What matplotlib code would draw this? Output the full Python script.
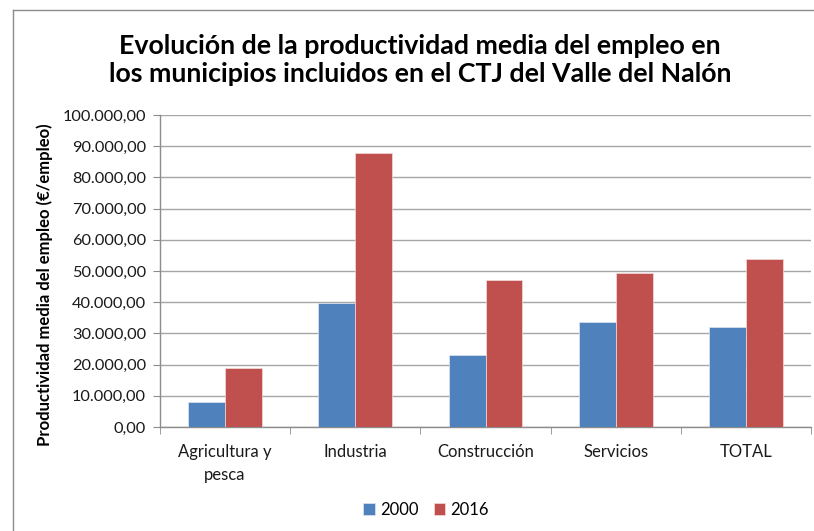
import matplotlib
matplotlib.use("Agg")
import matplotlib.pyplot as plt
import numpy as np
from matplotlib.lines import Line2D
from matplotlib.ticker import FuncFormatter

categories = ["Agricultura y\npesca", "Industria", "Construcción", "Servicios", "TOTAL"]
series_names = ["2000", "2016"]
values_2000 = [7900, 39900, 23000, 33700, 32100]
values_2016 = [18800, 87700, 47000, 49400, 53700]
yticks = [0, 10000, 20000, 30000, 40000, 50000, 60000, 70000, 80000, 90000, 100000]

title = "Evolución de la productividad media del empleo en\nlos municipios incluidos en el CTJ del Valle del Nalón"
ylabel = "Productividad media del empleo (€/empleo)"

plt.rcParams['font.family'] = ['Lato', 'DejaVu Sans']

fig = plt.figure(figsize=(8.14, 5.31), dpi=100)
W, H = 814, 531
ax = fig.add_axes([160 / W, 1 - 427 / H, (811 - 160) / W, (427 - 115) / H])
ax.patch.set_edgecolor("none")
ax.patch.set_linewidth(0)

# outer chart frame (left and top edges visible)
fx, fy = 13.5 / W, 1 - 9.5 / H
fig.lines.append(Line2D([fx, fx], [0, fy], transform=fig.transFigure, color="#8c8c8c", linewidth=1.0))
fig.lines.append(Line2D([fx, 1.0], [fy, fy], transform=fig.transFigure, color="#8c8c8c", linewidth=1.0))

x = np.arange(len(categories))
bw = 0.283
blue = "#4F81BD"
red = "#C0504D"
ax.bar(x - bw / 2, values_2000, bw, color=blue, edgecolor="#dfe6f0", linewidth=0.5, label=series_names[0], zorder=3)
ax.bar(x + bw / 2, values_2016, bw, color=red, edgecolor="#f2dcdb", linewidth=0.5, label=series_names[1], zorder=3)

ax.set_xlim(-0.5, len(categories) - 0.5)
ax.set_ylim(0, 100000)
ax.set_yticks(yticks)

def fmt(v, pos):
    s = f"{v:,.2f}"
    return s.replace(",", "X").replace(".", ",").replace("X", ".")
ax.yaxis.set_major_formatter(FuncFormatter(fmt))

ax.grid(axis="y", which="major", color="#a6a6a6", linewidth=1.0, zorder=0)
ax.grid(axis="x", visible=False)
ax.spines["top"].set_visible(False)
ax.spines["right"].set_visible(False)
for s in ["left", "bottom"]:
    ax.spines[s].set_color("#8c8c8c")
    ax.spines[s].set_linewidth(1.0)

ax.set_xticks(x)
ax.set_xticklabels(categories, fontsize=12, color="#1a1a1a", linespacing=1.6)
ax.tick_params(axis="x", length=0, pad=12)
ax.set_xticks(np.arange(-0.5, len(categories), 1), minor=True)
ax.tick_params(axis="x", which="minor", length=5, color="#8c8c8c", direction="out")
ax.tick_params(axis="y", length=5, color="#8c8c8c", labelsize=11.8, labelcolor="#1a1a1a", pad=5)

fig.text(420 / W, 1 - 60 / H, title, ha="center", va="center", fontsize=19.3, fontweight="bold",
         linespacing=1.25, color="#000000")
fig.text(45 / W, 1 - 285 / H, ylabel, ha="center", va="center", rotation=90, fontsize=12,
         fontweight="bold", color="#000000")

leg = fig.legend(loc="center", bbox_to_anchor=(426 / W, 1 - 510 / H), ncol=2, frameon=False,
                 fontsize=12, handlelength=0.7, handleheight=0.7, handletextpad=0.3, columnspacing=0.9)

fig.savefig("out.png", dpi=100)
